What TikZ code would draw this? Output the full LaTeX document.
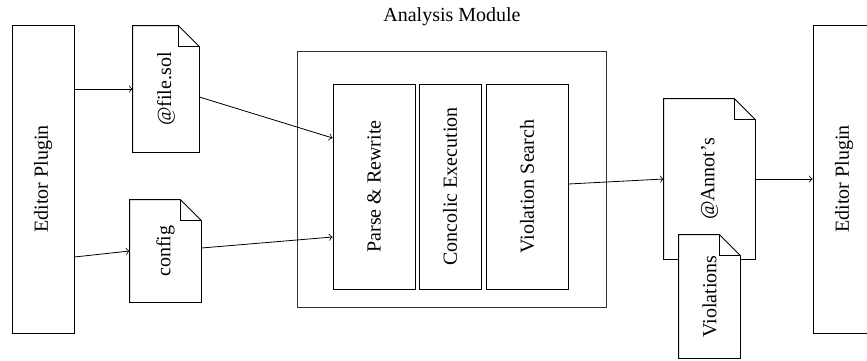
\documentclass[tikz,border=0pt]{standalone}
\usepackage{fontspec}
\setmainfont{Liberation Serif}
\usepackage{graphicx}
\usetikzlibrary{calc}
\newcommand{\vtext}[1]{\rotatebox{90}{#1}}
% outline of a page with a folded corner
\newcommand{\docfold}[1]{%
	\draw (#1.south west) -- (#1.north west) -- ($(#1.north east)+(-21,0)$) -- ($(#1.north east)+(0,21)$) -- (#1.south east) -- cycle;
	\draw ($(#1.north east)+(-21,0)$) |- ($(#1.north east)+(0,21)$);}

\begin{document}
\begin{tikzpicture}[x=0.5pt,y=-0.5pt,
		box/.style={draw, inner sep=0pt},
		doc/.style={fill=white, inner sep=0pt}]
		\useasboundingbox (0,0) rectangle (867,360);
		% editors
		\node[box, minimum width=31pt, minimum height=154pt] (lplug) at (43,179) {\vtext{Editor Plugin}};
		\node[box, minimum width=31pt, minimum height=154pt] (rplug) at (844,179) {\vtext{Editor Plugin}};
		% inputs
		\node[doc, minimum width=33pt, minimum height=63pt] (file) at (166,89) {\vtext{@file.sol}};		\docfold{file}
		\node[doc, minimum width=35.5pt, minimum height=51pt] (config) at (165.5,251) {\vtext{config}};	\docfold{config}
		% analysis module
		\node[box, draw=black!80, minimum width=154.5pt, minimum height=128pt] (module) at (451.5,179) {};
		\node (title) at (452,17) {Analysis Module};
		\node[box, minimum width=41pt, minimum height=102.5pt] (parse) at (374,186.5) {\vtext{Parse \& Rewrite}};
		\node[box, minimum width=31pt, minimum height=102.5pt] (concolic) at (450,186.5) {\vtext{Concolic Execution}};
		\node[box, minimum width=41pt, minimum height=102.5pt] (vsearch) at (527,186.5) {\vtext{Violation Search}};
		% outputs
		\node[doc, minimum width=45.5pt, minimum height=80pt] (annot) at (709.5,179) {\vtext{@Annot's}};	\docfold{annot}
		\node[doc, minimum width=30.5pt, minimum height=61.5pt] (viol) at (709.5,296.5) {\vtext{Violations}};	\docfold{viol}
		% connectors
		\draw[->] (lplug.east |- file.west) -- (file.west);
		\draw[->] ($(lplug.east)+(0,78)$) -- (config.west);
		\draw[->] ($(file.east)+(0,8)$) -- ($(parse.west)+(0,-48.5)$);
		\draw[->] ($(config.east)+(0,-3)$) -- ($(parse.west)+(0,50.5)$);
		\draw[->] ($(vsearch.east)+(0,-2.5)$) -- (annot.west);
		\draw[->] (annot.east) -- (rplug.west |- annot.east);
	\end{tikzpicture}
\end{document}
